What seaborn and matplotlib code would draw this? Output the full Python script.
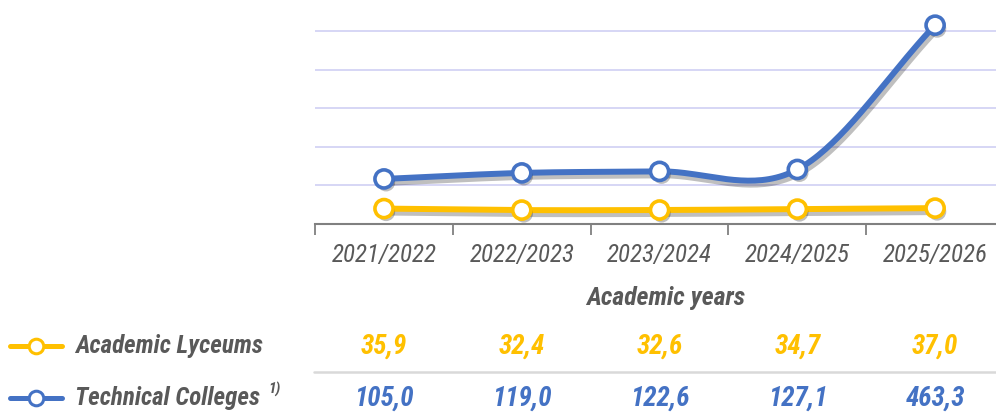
import numpy as np
import pandas as pd
import seaborn as sns
import matplotlib
matplotlib.use("Agg")
import matplotlib.pyplot as plt
import matplotlib.patheffects as pe
import matplotlib.transforms as mtransforms
from matplotlib import font_manager as fm
from matplotlib.lines import Line2D

# data
years = ["2021/2022", "2022/2023", "2023/2024", "2024/2025", "2025/2026"]
lyceums = [35.9, 32.4, 32.6, 34.7, 37.0]
colleges = [105.0, 119.0, 122.6, 127.1, 463.3]
series_names = ["Academic Lyceums", "Technical Colleges"]
colors = ["#FFC000", "#4472C4"]
gray = "#595959"

sns.set_theme(style="white")
names = {f.name for f in fm.fontManager.ttflist}
fam = "Roboto Condensed" if "Roboto Condensed" in names else "Roboto"
plt.rcParams["font.family"] = [fam, "DejaVu Sans"]


def smooth(vals, n=40):
    # catmull-rom style curve through the points (for drawing only)
    y = np.asarray(vals, dtype=float)
    m = np.empty_like(y)
    m[1:-1] = (y[2:] - y[:-2]) / 2
    m[0] = y[1] - y[0]
    m[-1] = y[-1] - y[-2]
    xs, ys = [], []
    t = np.linspace(0, 1, n)
    for i in range(len(y) - 1):
        h00 = 2 * t**3 - 3 * t**2 + 1
        h10 = t**3 - 2 * t**2 + t
        h01 = -2 * t**3 + 3 * t**2
        h11 = t**3 - t**2
        xs.extend(i + t)
        ys.extend(h00 * y[i] + h10 * m[i] + h01 * y[i + 1] + h11 * m[i + 1])
    return np.array(xs), np.array(ys)


W, H = 996, 412
fig = plt.figure(figsize=(W / 100, H / 100), dpi=100)
left, right, top, base = 315.1, 1004.0, 0.0, 224.0
ax = fig.add_axes([left / W, 1 - base / H, (right - left) / W, (base - top) / H])

shadow_line = [pe.SimpleLineShadow(offset=(1.5, -2.5), shadow_color="black", alpha=0.25, linewidth=5), pe.Normal()]
shadow_pt = [pe.SimplePatchShadow(offset=(1.5, -2.5), shadow_rgbFace="black", alpha=0.25), pe.Normal()]

for vals, col in zip([lyceums, colleges], colors):
    sx, sy = smooth(vals)
    curve = pd.DataFrame({"x": sx, "y": sy})
    sns.lineplot(data=curve, x="x", y="y", ax=ax, color=col, linewidth=4.3,
                 sort=False, estimator=None, path_effects=shadow_line, zorder=3)
    pts = pd.DataFrame({"x": np.arange(len(vals)), "y": vals})
    sns.scatterplot(data=pts, x="x", y="y", ax=ax, s=170, color="white",
                    edgecolor=col, linewidth=2.6, path_effects=shadow_pt, zorder=4)

ax.set_xlim(-0.5, 4.5)
ax.set_ylim(0, 522)
for g in [90, 180, 270, 360, 450]:
    ax.axhline(g, color="#D3D3F5", linewidth=1.3, zorder=1)

for s in ["top", "right", "left"]:
    ax.spines[s].set_visible(False)
ax.spines["bottom"].set_color("#808080")
ax.spines["bottom"].set_linewidth(1.5)
ax.set_yticks([])
ax.set_xticks(range(len(years)))
ax.set_xticklabels(years, fontsize=18, style="italic", color=gray)
ax.set_xticks(np.arange(-0.5, 5, 1), minor=True)
ax.tick_params(axis="x", which="major", length=0, pad=14)
ax.tick_params(axis="x", which="minor", length=8, width=1.3, color="#808080", bottom=True)
ax.set_xlabel("")
ax.set_ylabel("")

fig.text(666 / W, 1 - 298 / H, "Academic years", ha="center", va="center",
         fontsize=18.5, fontweight="bold", style="italic", color=gray)

# table rows under the chart
tr = mtransforms.blended_transform_factory(ax.transData, fig.transFigure)
row_y = [346, 398]
for vals, col, name, yy in zip([lyceums, colleges], colors, series_names, row_y):
    fy = 1 - yy / H
    for i, v in enumerate(vals):
        fig.text(i, fy, f"{v:.1f}".replace(".", ","), transform=tr, ha="center", va="center",
                 fontsize=19.5, fontweight="bold", style="italic", color=col)
    fig.add_artist(Line2D([10 / W, 62 / W], [fy, fy], color=col, linewidth=3.6, solid_capstyle="round"))
    fig.add_artist(Line2D([36 / W], [fy], marker="o", markersize=10.5, markerfacecolor="white",
                          markeredgecolor=col, markeredgewidth=2.2))
    fig.text(75 / W, fy, name, ha="left", va="center", fontsize=18, fontweight="bold",
             style="italic", color=gray)

fig.text(268 / W, 1 - 389 / H, "1)", ha="left", va="center", fontsize=11, fontweight="bold",
         style="italic", color=gray)
fig.add_artist(Line2D([314 / W, 1.0], [1 - 372 / H, 1 - 372 / H], color="#D9D9D9", linewidth=1.8))

fig.savefig("out.png", dpi=100)
